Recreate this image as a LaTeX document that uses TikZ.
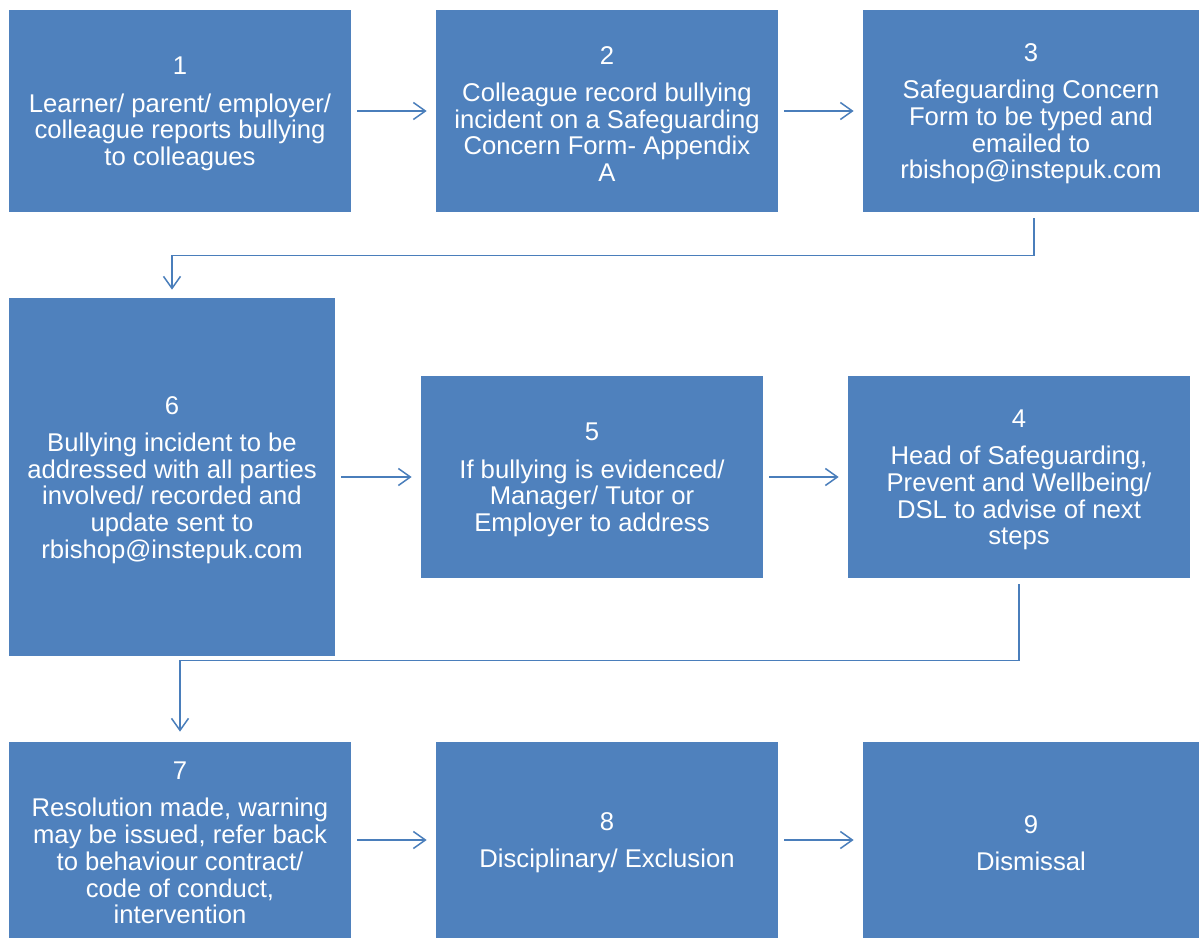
\documentclass[tikz,border=0pt]{standalone}
\usepackage{fontspec}
\setmainfont{Liberation Sans}
\usetikzlibrary{arrows.meta}
\definecolor{boxblue}{RGB}{79,129,189}
\definecolor{lineblue}{RGB}{74,126,187}
\def\stepnum#1{\rule{0pt}{13.5pt}#1}

\begin{document}
\begin{tikzpicture}[
	stepbox/.style={fill=boxblue, draw=none, text=white, align=center, inner sep=0pt,
		font=\fontsize{14.6}{15.2}\selectfont},
	flow/.style={draw=lineblue, line width=0.3mm, -{Straight Barb[length=2.4mm,width=3.4mm]}}
	]
			%%%%% START %%%%%
			
			\useasboundingbox (0, 0) rectangle (23.98, -18.76);
			
			% first row
			\node[stepbox, minimum width=6.84cm, minimum height=4.04cm] (b1) at (3.6, -2.22)
				{\stepnum{1}\\[6pt]Learner/ parent/ employer/\\colleague reports bullying\\to colleagues};
			\node[stepbox, minimum width=6.84cm, minimum height=4.04cm] (b2) at (12.14, -2.22)
				{\stepnum{2}\\[6pt]Colleague record bullying\\incident on a Safeguarding\\Concern Form- Appendix\\A};
			\node[stepbox, minimum width=6.72cm, minimum height=4.04cm] (b3) at (20.62, -2.22)
				{\stepnum{3}\\[6pt]Safeguarding Concern\\Form to be typed and\\emailed to\\rbishop@instepuk.com};
			
			% second row
			\node[stepbox, minimum width=6.52cm, minimum height=7.16cm] (b6) at (3.44, -9.54)
				{\stepnum{6}\\[6pt]Bullying incident to be\\addressed with all parties\\involved/ recorded and\\update sent to\\rbishop@instepuk.com};
			\node[stepbox, minimum width=6.84cm, minimum height=4.04cm] (b5) at (11.84, -9.54)
				{\stepnum{5}\\[6pt]If bullying is evidenced/\\Manager/ Tutor or\\Employer to address};
			\node[stepbox, minimum width=6.84cm, minimum height=4.04cm] (b4) at (20.38, -9.54)
				{\stepnum{4}\\[6pt]Head of Safeguarding,\\Prevent and Wellbeing/\\DSL to advise of next\\steps};
			
			% third row
			\node[stepbox, minimum width=6.84cm, minimum height=3.92cm] (b7) at (3.6, -16.8)
				{\stepnum{7}\\[6pt]Resolution made, warning\\may be issued, refer back\\to behaviour contract/\\code of conduct,\\intervention};
			\node[stepbox, minimum width=6.84cm, minimum height=3.92cm] (b8) at (12.14, -16.8)
				{\stepnum{8}\\[6pt]Disciplinary/ Exclusion};
			\node[stepbox, minimum width=6.72cm, minimum height=3.92cm] (b9) at (20.62, -16.8)
				{\stepnum{9}\\[6pt]Dismissal};
			
			% arrows
			\draw[flow, shorten <=1.2mm, shorten >=1.8mm] (b1) -- (b2);
			\draw[flow, shorten <=1.2mm, shorten >=1.8mm] (b2) -- (b3);
			\draw[flow, shorten <=1.2mm, shorten >=1.6mm] ([xshift=0.06cm]b3.south) -- ++(0, -0.86) -| (b6.north);
			\draw[flow, shorten <=1.2mm, shorten >=1.8mm] (b6) -- (b5);
			\draw[flow, shorten <=1.2mm, shorten >=1.8mm] (b5) -- (b4);
			\draw[flow, shorten <=1.2mm, shorten >=2mm] (b4.south) -- ++(0, -1.64) -| (b7.north);
			\draw[flow, shorten <=1.2mm, shorten >=1.8mm] (b7) -- (b8);
			\draw[flow, shorten <=1.2mm, shorten >=1.8mm] (b8) -- (b9);
			
			%%%%% END %%%%%
\end{tikzpicture}
\end{document}
